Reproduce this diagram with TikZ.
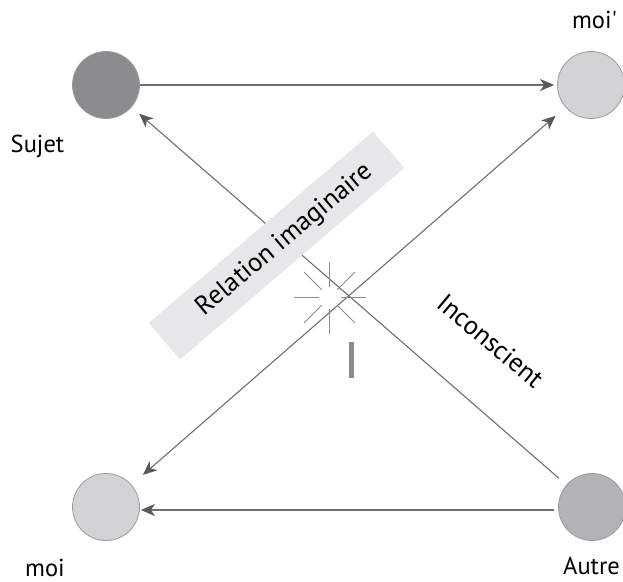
\documentclass[tikz,border=0pt]{standalone}
\usepackage{fontspec}
\newfontfamily\labfont{PT Sans}
\usetikzlibrary{arrows.meta}
\definecolor{sujetc}{HTML}{8B8C8E}
\definecolor{lightc}{HTML}{D1D3D4}
\definecolor{autrec}{HTML}{B1B3B6}
\definecolor{ringc}{HTML}{9A9B9D}
\definecolor{linec}{HTML}{6D6E71}
\definecolor{tipc}{HTML}{58595B}
\definecolor{bandc}{HTML}{E6E7E8}
\definecolor{starc}{HTML}{8A8B8D}
\tikzset{
  circ/.style={circle, draw=ringc, line width=0.8pt, minimum size=67pt, inner sep=0pt},
  conn/.style={draw=linec, line width=1.1pt, -{Stealth[length=14pt,width=12pt,inset=4pt,color=tipc]}},
  conn2/.style={draw=linec, line width=1.1pt, {Stealth[length=14pt,width=12pt,inset=4pt,color=tipc]}-{Stealth[length=14pt,width=12pt,inset=4pt,color=tipc]}},
  lab/.style={font=\labfont\fontsize{24.5}{28}\selectfont, inner sep=0pt, anchor=base},
  rlab/.style={font=\labfont\fontsize{26.5}{30}\selectfont, inner sep=0pt},
  band/.style={fill=bandc, minimum width=295pt, minimum height=48pt, inner sep=0pt, rotate=40.5},
  ray/.style={draw=starc, line width=0.9pt}
}
\begin{document}
\begin{tikzpicture}[x=1pt,y=-1pt]
\useasboundingbox (0,0) rectangle (623,581);
% circles
\node[circ, fill=sujetc] (S) at (106,85) {};
\node[circ, fill=lightc] (mp) at (591,85) {};
\node[circ, fill=lightc] (m) at (106,507) {};
\node[circ, fill=autrec] (A) at (592,507) {};
% labels
\node[lab] (lS) at (37.5,152) {Sujet};
\node[lab] (lmp) at (594.5,28) {moi\textquotesingle};
\node[lab] (lm) at (45,576) {moi};
\node[lab] (lA) at (591.5,574) {Autre};
% connectors
\draw[conn, shorten >=3pt] (S) -- (mp);
\draw[conn, shorten >=1pt] ([xshift=-4pt,yshift=-3pt]A.west) -- ([yshift=-3pt]m.east);
\draw[conn, shorten <=10pt, shorten >=10pt] (A) -- (S);
\draw[conn2, shorten <=15pt, shorten >=13pt] (m) -- (mp);
% band
\node[band] (bd) at (276.5,245.5) {};
\node[rlab, rotate=40] (rel) at (285,240) {Relation imaginaire};
\node[rlab, rotate=-40] (inc) at (491,341) {Inconscient};
% star
\coordinate (star) at (329.5,297.5);
\foreach \a in {0,45,...,315}
  \draw[ray] ([shift={(\a:11)}]star) -- ([shift={(\a:36)}]star);
\fill[starc] (349,342) rectangle (354,378);
\end{tikzpicture}
\end{document}
